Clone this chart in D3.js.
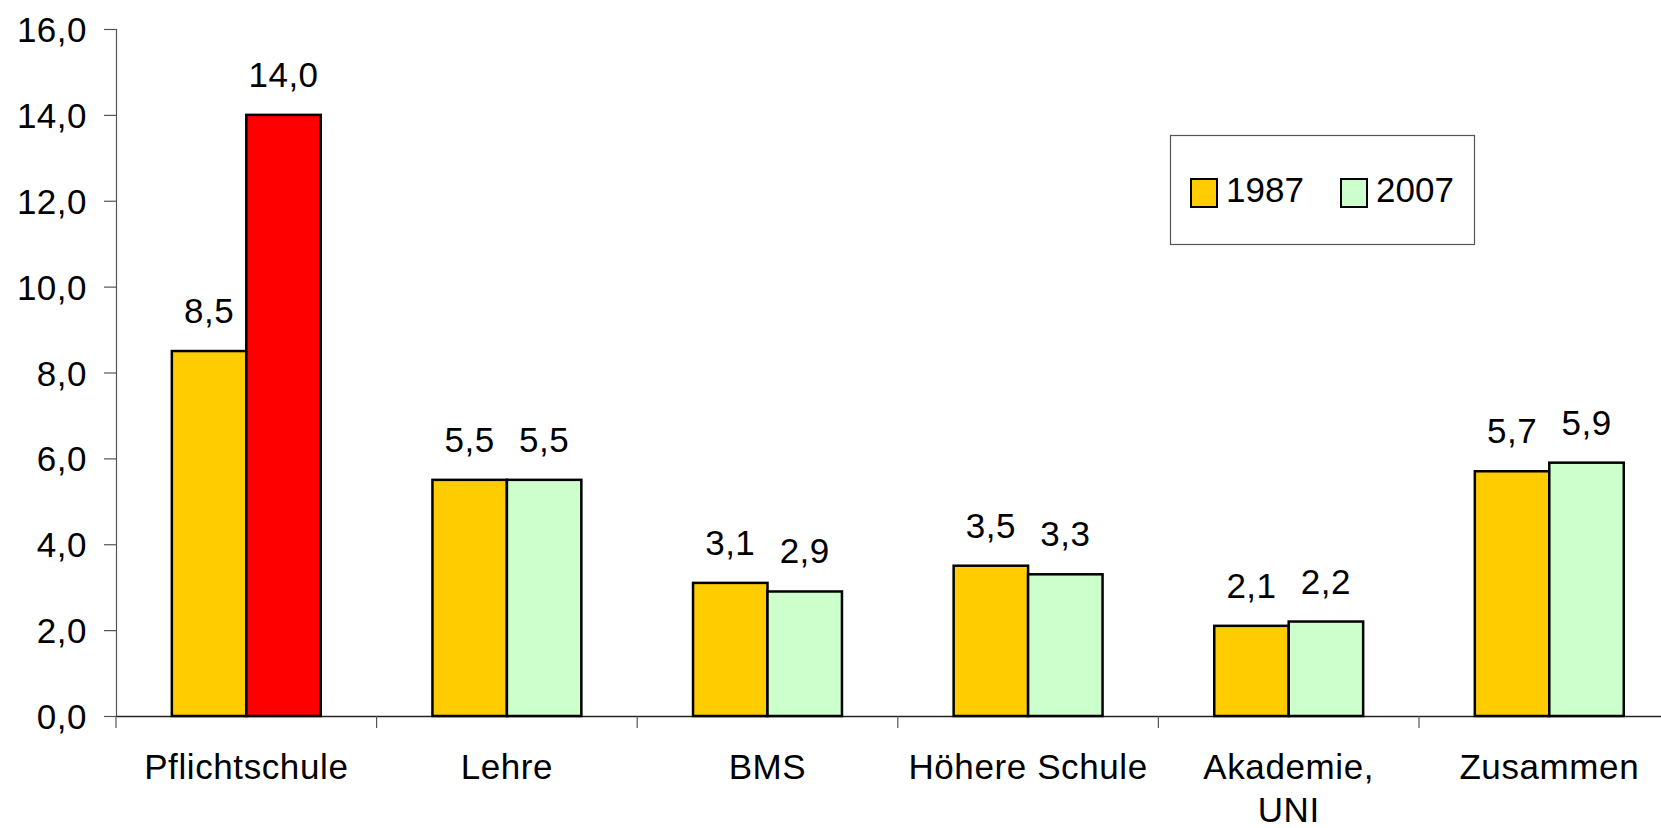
<!DOCTYPE html>
<html>
<head>
<meta charset="utf-8">
<script src="https://cdnjs.cloudflare.com/ajax/libs/d3/7.8.5/d3.min.js"></script>
<style>
  html, body { margin: 0; padding: 0; background: #fff; }
  svg text { font-family: "Liberation Sans", Arial, sans-serif; fill: #000; }
</style>
</head>
<body>
<div id="chart"></div>
<script>
// daten
const categories = ["Pflichtschule", "Lehre", "BMS", "Höhere Schule", "Akademie, UNI", "Zusammen"];
const seriesNames = ["1987", "2007"];
const values1987 = [8.5, 5.5, 3.1, 3.5, 2.1, 5.7];
const values2007 = [14.0, 5.5, 2.9, 3.3, 2.2, 5.9];
const yTicks = [0, 2, 4, 6, 8, 10, 12, 14, 16];

const colors = { "1987": "#FFCC00", "2007": "#CCFFCC" };
const highlightColor = "#FF0000";   // Pflichtschule 2007
const highlightCategory = "Pflichtschule";

const width = 1661, height = 828;
const fontSize = 35;

const svg = d3.select("#chart").append("svg")
    .attr("width", width)
    .attr("height", height);

svg.append("rect").attr("width", width).attr("height", height).attr("fill", "#fff");

const data = categories.map((c, i) => ({
    cat: c,
    bars: [
        { key: "1987", value: values1987[i] },
        { key: "2007", value: values2007[i] }
    ]
}));

// Achsen / Skalen
const bandW = 260.6;
const x0 = d3.scaleBand()
    .domain(categories)
    .range([116, 116 + categories.length * bandW]);

// Excel Abstand 150% -> Balken = band / 3.5
const barW = x0.bandwidth() / 3.5;
const x1 = d3.scaleBand()
    .domain(seriesNames)
    .range([x0.bandwidth() * 0.75 / 3.5, x0.bandwidth() * 0.75 / 3.5 + 2 * barW]);

const y = d3.scaleLinear().domain([0, 16]).range([716, 29]);

const comma = d3.formatLocale({ decimal: ",", thousands: ".", grouping: [3], currency: ["", "€"] }).format(".1f");

// Y-Achse
const yAxis = svg.append("g")
    .attr("transform", "translate(116,0)")
    .call(d3.axisLeft(y).tickValues(yTicks).tickSize(12).tickPadding(17).tickFormat(comma));
yAxis.select(".domain").attr("stroke", "#555").attr("stroke-width", 1.2);
yAxis.selectAll(".tick line").attr("stroke", "#555").attr("stroke-width", 1.2);
yAxis.selectAll("text")
    .style("font-size", fontSize + "px")
    .style("letter-spacing", "0.5px")
    .attr("dy", "0.36em");

// X-Achse: Linie + Trennstriche zwischen Kategorien
const xAxis = svg.append("g")
    .attr("transform", `translate(0,${y(0)})`)
    .call(d3.axisBottom(x0).tickSize(0).tickPadding(0));
xAxis.select(".domain").attr("stroke", "#222").attr("stroke-width", 1.5);

xAxis.selectAll(".sep")
    .data(categories)
    .join("line")
    .attr("class", "sep")
    .attr("x1", d => x0(d)).attr("x2", d => x0(d))
    .attr("y1", 0).attr("y2", 12)
    .attr("stroke", "#555").attr("stroke-width", 1.2);

// Kategorie-Beschriftungen (umbrechen bei ", ")
xAxis.selectAll(".tick text").each(function (d) {
    const t = d3.select(this);
    const lines = d.includes(", ") ? [d.split(", ")[0] + ",", d.split(", ")[1]] : [d];
    t.text(null)
        .attr("y", 0)
        .attr("dy", null)
        .style("font-size", fontSize + "px")
        .style("letter-spacing", "0.6px");
    lines.forEach((ln, i) => {
        t.append("tspan")
            .attr("x", 0)
            .attr("y", 63 + i * 43)
            .text(ln);
    });
});

// Balken
const groups = svg.selectAll(".grp")
    .data(data)
    .join("g")
    .attr("class", "grp")
    .attr("transform", d => `translate(${x0(d.cat)},0)`);

groups.selectAll("rect")
    .data(d => d.bars.map(b => ({ ...b, cat: d.cat })))
    .join("rect")
    .attr("x", d => x1(d.key))
    .attr("y", d => y(d.value))
    .attr("width", x1.bandwidth())
    .attr("height", d => y(0) - y(d.value))
    .attr("fill", d => (d.key === "2007" && d.cat === highlightCategory) ? highlightColor : colors[d.key])
    .attr("stroke", "#000")
    .attr("stroke-width", 2.5);

// Werte über den Balken
groups.selectAll(".lbl")
    .data(d => d.bars)
    .join("text")
    .attr("class", "lbl")
    .attr("x", d => x1(d.key) + x1.bandwidth() / 2)
    .attr("y", d => y(d.value) - 28)
    .attr("text-anchor", "middle")
    .style("font-size", fontSize + "px")
    .style("letter-spacing", "0.5px")
    .text(d => comma(d.value));

// Legende
const legend = svg.append("g");
legend.append("rect")
    .attr("x", 1170.5).attr("y", 135.5)
    .attr("width", 304).attr("height", 109)
    .attr("fill", "#fff")
    .attr("stroke", "#555").attr("stroke-width", 1.2);

const legendX = [1191, 1341];
const li = legend.selectAll(".li")
    .data(seriesNames)
    .join("g")
    .attr("class", "li")
    .attr("transform", (d, i) => `translate(${legendX[i]},179)`);
li.append("rect")
    .attr("width", 26).attr("height", 28)
    .attr("fill", d => colors[d])
    .attr("stroke", "#000").attr("stroke-width", 2);
li.append("text")
    .attr("x", 35).attr("y", 23)
    .style("font-size", fontSize + "px")
    .text(d => d);
</script>
</body>
</html>
